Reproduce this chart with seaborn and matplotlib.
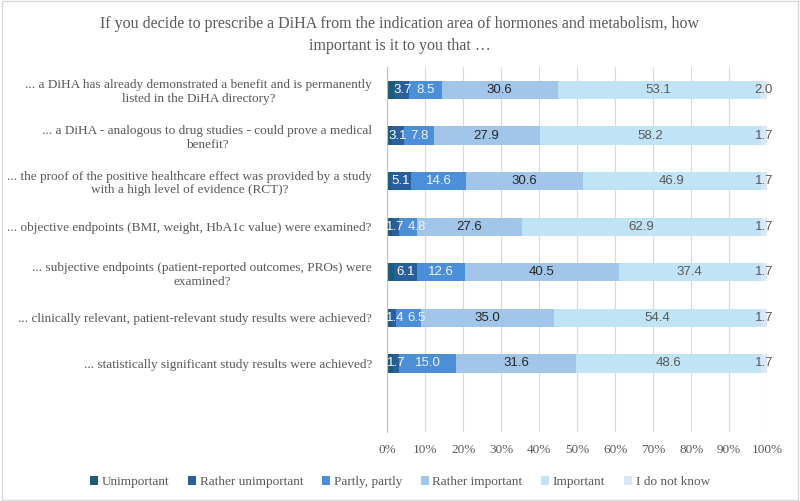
import numpy as np
import pandas as pd
import matplotlib
matplotlib.use("Agg")
import matplotlib.pyplot as plt
import seaborn as sns
from matplotlib.patches import Patch, Rectangle

# === DATA ===
questions = [
    "... a DiHA has already demonstrated a benefit and is permanently\nlisted in the DiHA directory?",
    "... a DiHA - analogous to drug studies - could prove a medical\nbenefit?",
    "... the proof of the positive healthcare effect was provided by a study\nwith a high level of evidence (RCT)?",
    "... objective endpoints (BMI, weight, HbA1c value) were examined?",
    "... subjective endpoints (patient-reported outcomes, PROs) were\nexamined?",
    "... clinically relevant, patient-relevant study results were achieved?",
    "... statistically significant study results were achieved?",
]
answers = ["Unimportant", "Rather unimportant", "Partly, partly",
           "Rather important", "Important", "I do not know"]

unimportant = [2.1, 1.3, 1.1, 1.3, 1.7, 1.0, 1.4]
rather_unimportant = [3.7, 3.1, 5.1, 1.7, 6.1, 1.4, 1.7]
partly = [8.5, 7.8, 14.6, 4.8, 12.6, 6.5, 15.0]
rather_important = [30.6, 27.9, 30.6, 27.6, 40.5, 35.0, 31.6]
important = [53.1, 58.2, 46.9, 62.9, 37.4, 54.4, 48.6]
dont_know = [2.0, 1.7, 1.7, 1.7, 1.7, 1.7, 1.7]

x_ticks = [0, 10, 20, 30, 40, 50, 60, 70, 80, 90, 100]

# === STYLE ===
colors = ["#1d5b7a", "#2a5f9e", "#4a8fd8", "#a2c6ea", "#c0e3f5", "#dbe7f5"]
label_colors = ["white", "white", "#f2f2f2", "#262626", "#595959", "#595959"]
show_label = [False, True, True, True, True, True]

sns.set_theme(style="white")
plt.rcParams["font.family"] = ["Liberation Serif", "DejaVu Serif"]

df = pd.DataFrame({
    "question": questions,
    answers[0]: unimportant,
    answers[1]: rather_unimportant,
    answers[2]: partly,
    answers[3]: rather_important,
    answers[4]: important,
    answers[5]: dont_know,
})
cum = df[answers].cumsum(axis=1)

fig = plt.figure(figsize=(8, 5.01), dpi=100)
ax = fig.add_axes([0.484, 0.138, 0.475, 0.728])

# draw cumulative bars from the widest to the narrowest so they stack
for i in reversed(range(len(answers))):
    sns.barplot(x=cum[answers[i]], y=df["question"], orient="h",
                color=colors[i], width=0.4, saturation=1, ax=ax,
                edgecolor="none", linewidth=0)

# segment labels (small ones nudged right so they don't collide)
for j in range(len(questions)):
    prev_x = None
    for i, ans in enumerate(answers):
        if not show_label[i]:
            continue
        val = df[ans].iloc[j]
        xpos = cum[ans].iloc[j] - val / 2
        if i == 1:
            xpos = max(xpos, 2.0)
        elif i == 2 and prev_x is not None:
            xpos = max(xpos, prev_x + 5.6)
        prev_x = xpos
        ax.text(xpos, j, f"{val:.1f}", ha="center", va="center",
                fontsize=9.5, color=label_colors[i], family="Liberation Sans")

ax.set_xlim(0, 100)
ax.set_ylim(7.5, -0.5)
ax.set_xticks(x_ticks)
ax.set_xticklabels([f"{t}%" for t in x_ticks], color="#595959", fontsize=9.5)
ax.tick_params(axis="x", length=0, pad=9)
ax.tick_params(axis="y", length=0, pad=11)
for lab in ax.get_yticklabels():
    lab.set_multialignment("center")
    lab.set_fontsize(9.5)
    lab.set_color("#595959")
ax.set_xlabel("")
ax.set_ylabel("")
ax.xaxis.grid(True, color="#d9d9d9", linewidth=0.8)
ax.set_axisbelow(True)
for s in ["top", "right", "bottom"]:
    ax.spines[s].set_visible(False)
ax.spines["left"].set_color("#bfbfbf")
ax.spines["left"].set_linewidth(0.8)

fig.suptitle("If you decide to prescribe a DiHA from the indication area of hormones and metabolism, how\n"
             "important is it to you that \u2026",
             y=0.968, fontsize=11.5, color="#595959", linespacing=1.5)

handles = [Patch(facecolor=c, edgecolor="none") for c in colors]
fig.legend(handles, answers, loc="center", bbox_to_anchor=(0.5, 0.038), ncol=6,
           frameon=False, fontsize=9.5, handlelength=0.6, handleheight=0.6,
           handletextpad=0.3, columnspacing=1.4, labelcolor="#595959")

fig.patches.append(Rectangle((0.002, 0.002), 0.996, 0.996, transform=fig.transFigure,
                             fill=False, edgecolor="#d9d9d9", linewidth=1))

fig.savefig("out.png", dpi=100)
